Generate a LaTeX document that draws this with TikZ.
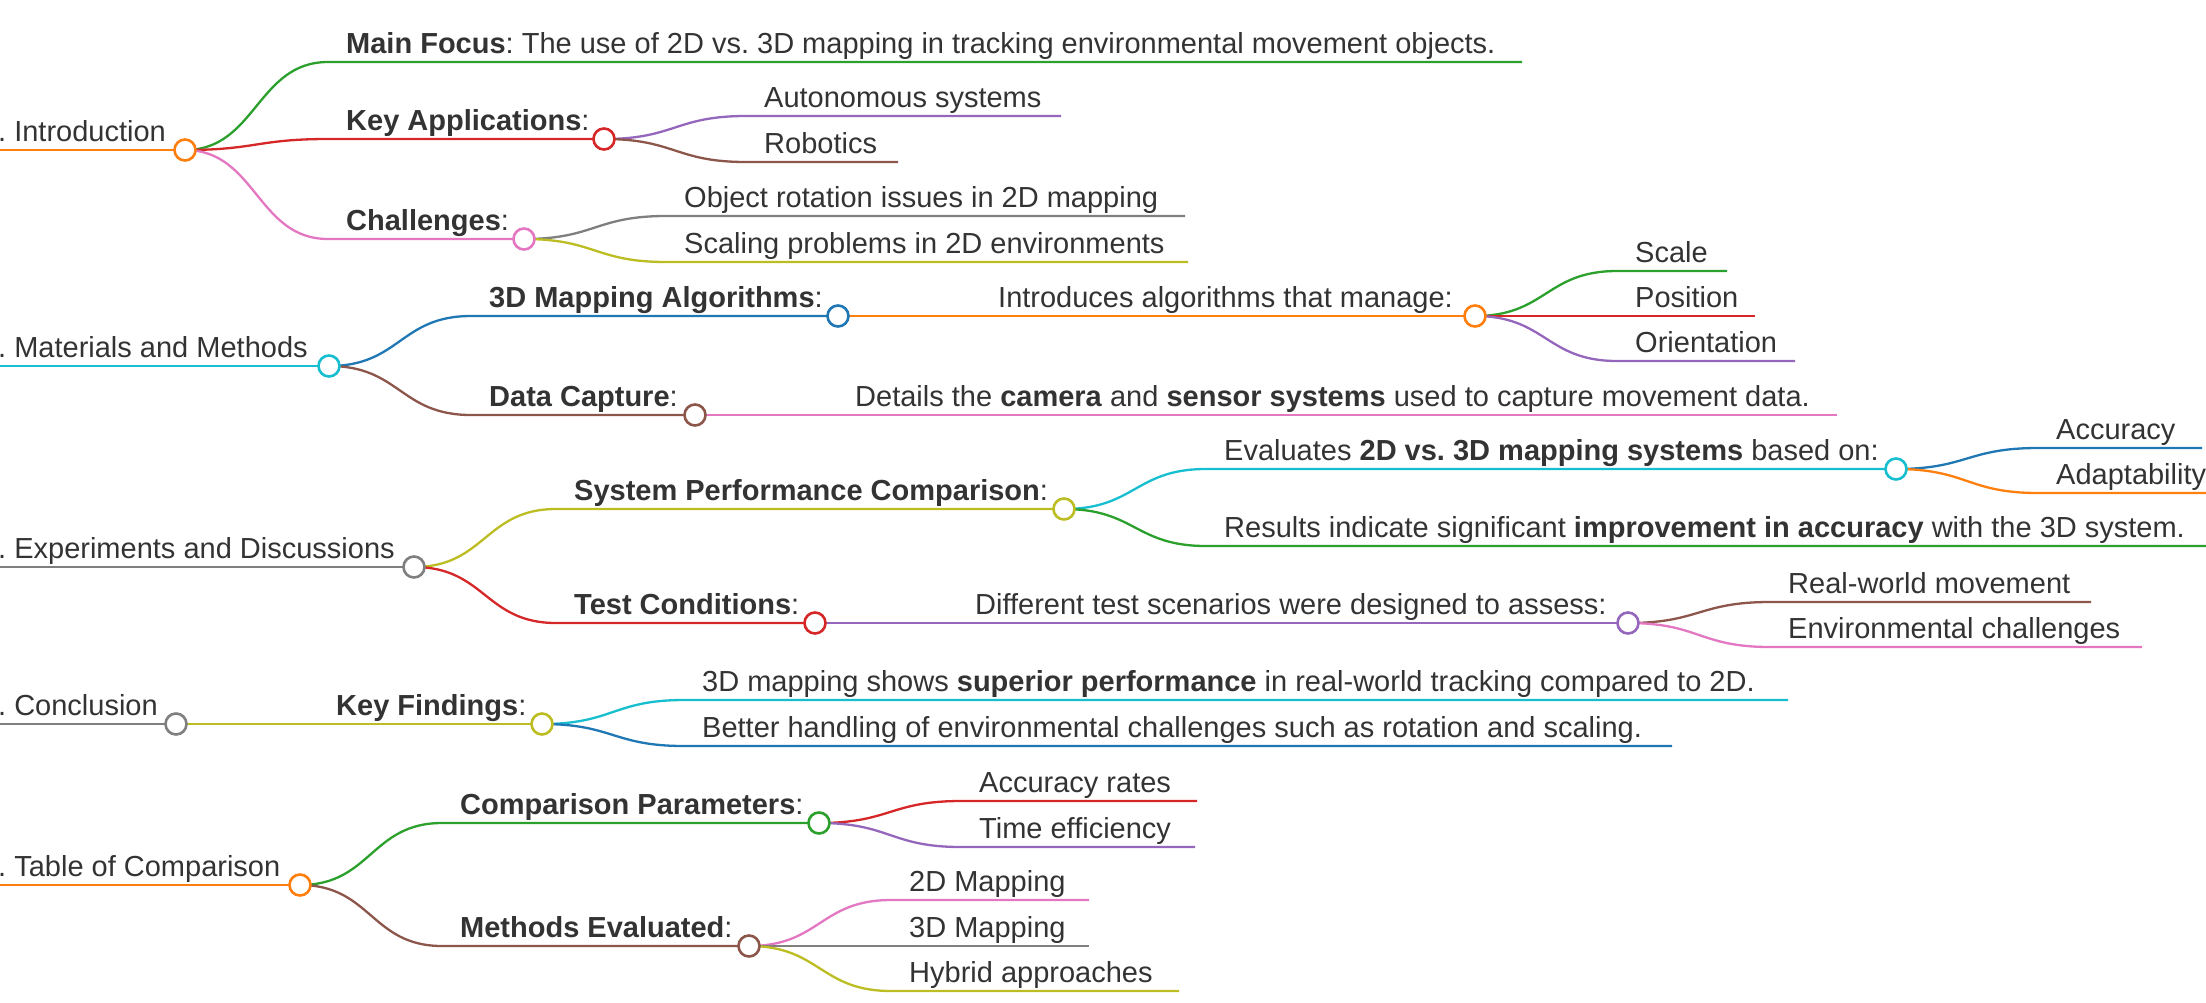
\documentclass[tikz,border=0pt]{standalone}
\usepackage{fontspec}
\setmainfont{Liberation Sans}
\frenchspacing
\pgfdeclarelayer{bg}
\pgfsetlayers{bg,main}
\definecolor{txtc}{HTML}{333333}
\definecolor{cblue}{HTML}{1F77B4}
\definecolor{corange}{HTML}{FF7F0E}
\definecolor{cgreen}{HTML}{2CA02C}
\definecolor{cred}{HTML}{D62728}
\definecolor{cpurple}{HTML}{9467BD}
\definecolor{cbrown}{HTML}{8C564B}
\definecolor{cpink}{HTML}{E377C2}
\definecolor{cgrey}{HTML}{7F7F7F}
\definecolor{colive}{HTML}{BCBD22}
\definecolor{ccyan}{HTML}{17BECF}
\tikzset{
  mmlbl/.style={anchor=base west, inner sep=0pt, text=txtc, font=\fontsize{29}{34}\selectfont\frenchspacing},
  mmdot/.style={circle, draw=#1, fill=white, line width=2.6pt, minimum size=21pt, inner sep=0pt},
  mmline/.style={draw=#1, line width=2.3pt},
}
% root: name, y, circle x, colour, text
\newcommand\mmroot[5]{%
  \coordinate (#1-s) at (0,#2);
  \node[mmlbl] (#1-t) at (-2,#2-8.5) {#5};
  \node[mmdot=#4] (#1) at (#3,#2) {};
}
% inner node: name, start x, y, circle x, colour, text
\newcommand\mmbranch[6]{%
  \coordinate (#1-s) at (#2,#3);
  \node[mmlbl] (#1-t) at (#2+18,#3-8.5) {#6};
  \node[mmdot=#5] (#1) at (#4,#3) {};
}
% leaf: name, start x, y, end x, text
\newcommand\mmleaf[5]{%
  \coordinate (#1-s) at (#2,#3);
  \coordinate (#1) at (#4,#3);
  \node[mmlbl] (#1-t) at (#2+18,#3-8.5) {#5};
}
\newcommand\mmedge[3]{%
  \draw[mmline=#1] (#2.center) .. controls +(71,0) and +(-71,0) .. (#3-s) -- (#3.center);
}
\newcommand\mmrootline[2]{%
  \draw[mmline=#1] (#2-s) -- (#2.center);
}
\begin{document}
\begin{tikzpicture}[x=1pt,y=-1pt]
\useasboundingbox (0,0) rectangle (2206,1002);
\clip (0,0) rectangle (2206,1002);
% ---------- 1. Introduction
\mmroot{intro}{150}{185}{corange}{. Introduction}
\mmleaf{mf}{328}{62}{1522}{\textbf{Main Focus}: The use of 2D vs. 3D mapping in tracking environmental movement objects.}
\mmbranch{ka}{328}{139}{604}{cred}{\textbf{Key Applications}:}
\mmleaf{au}{746}{116}{1061}{Autonomous systems}
\mmleaf{ro}{746}{162}{898}{Robotics}
\mmbranch{ch}{328}{239}{524}{cpink}{\textbf{Challenges}:}
\mmleaf{orot}{666}{216}{1185}{Object rotation issues in 2D mapping}
\mmleaf{spro}{666}{262}{1188}{Scaling problems in 2D environments}
% ---------- 2. Materials and Methods
\mmroot{mat}{366}{329}{ccyan}{. Materials and Methods}
\mmbranch{ma}{471}{316}{838}{cblue}{\textbf{3D Mapping Algorithms}:}
\mmbranch{ia}{980}{316}{1475}{corange}{Introduces algorithms that manage:}
\mmleaf{scl}{1617}{271}{1727}{Scale}
\mmleaf{pos}{1617}{316}{1755}{Position}
\mmleaf{ori}{1617}{361}{1795}{Orientation}
\mmbranch{dc}{471}{415}{695}{cbrown}{\textbf{Data Capture}:}
\mmleaf{det}{837}{415}{1837}{Details the \textbf{camera} and \textbf{sensor systems} used to capture movement data.}
% ---------- 3. Experiments and Discussions
\mmroot{exp}{567}{414}{cgrey}{. Experiments and Discussions}
\mmbranch{spc}{556}{509}{1064}{colive}{\textbf{System Performance Comparison}:}
\mmbranch{ev}{1206}{469}{1896}{ccyan}{Evaluates \textbf{2D vs. 3D mapping systems} based on:}
\mmleaf{acc}{2038}{448}{2202}{Accuracy}
\mmleaf{ada}{2038}{493}{2212}{Adaptability}
\mmleaf{res}{1206}{546}{2212}{Results indicate significant \textbf{improvement in accuracy} with the 3D system.}
\mmbranch{tc}{556}{623}{815}{cred}{\textbf{Test Conditions}:}
\mmbranch{dt}{957}{623}{1628}{cpurple}{Different test scenarios were designed to assess:}
\mmleaf{rw}{1770}{602}{2091}{Real-world movement}
\mmleaf{ec}{1770}{647}{2142}{Environmental challenges}
% ---------- 4. Conclusion
\mmroot{con}{724}{176}{cgrey}{. Conclusion}
\mmbranch{kf}{318}{724}{542}{colive}{\textbf{Key Findings}:}
\mmleaf{sh}{684}{700}{1788}{3D mapping shows \textbf{superior performance} in real-world tracking compared to 2D.}
\mmleaf{bh}{684}{746}{1672}{Better handling of environmental challenges such as rotation and scaling.}
% ---------- 5. Table of Comparison
\mmroot{tab}{885}{300}{corange}{. Table of Comparison}
\mmbranch{cp}{442}{823}{819}{cgreen}{\textbf{Comparison Parameters}:}
\mmleaf{ar}{961}{801}{1197}{Accuracy rates}
\mmleaf{tef}{961}{847}{1195}{Time efficiency}
\mmbranch{me}{442}{946}{749}{cbrown}{\textbf{Methods Evaluated}:}
\mmleaf{mtwo}{891}{900}{1089}{2D Mapping}
\mmleaf{mthree}{891}{946}{1089}{3D Mapping}
\mmleaf{hy}{891}{991}{1179}{Hybrid approaches}
% ---------- connectors
\begin{pgfonlayer}{bg}
\mmrootline{corange}{intro}
\mmedge{cgreen}{intro}{mf}
\mmedge{cred}{intro}{ka}
\mmedge{cpurple}{ka}{au}
\mmedge{cbrown}{ka}{ro}
\mmedge{cpink}{intro}{ch}
\mmedge{cgrey}{ch}{orot}
\mmedge{colive}{ch}{spro}
\mmrootline{ccyan}{mat}
\mmedge{cblue}{mat}{ma}
\mmedge{corange}{ma}{ia}
\mmedge{cgreen}{ia}{scl}
\mmedge{cred}{ia}{pos}
\mmedge{cpurple}{ia}{ori}
\mmedge{cbrown}{mat}{dc}
\mmedge{cpink}{dc}{det}
\mmrootline{cgrey}{exp}
\mmedge{colive}{exp}{spc}
\mmedge{ccyan}{spc}{ev}
\mmedge{cblue}{ev}{acc}
\mmedge{corange}{ev}{ada}
\mmedge{cgreen}{spc}{res}
\mmedge{cred}{exp}{tc}
\mmedge{cpurple}{tc}{dt}
\mmedge{cbrown}{dt}{rw}
\mmedge{cpink}{dt}{ec}
\mmrootline{cgrey}{con}
\mmedge{colive}{con}{kf}
\mmedge{ccyan}{kf}{sh}
\mmedge{cblue}{kf}{bh}
\mmrootline{corange}{tab}
\mmedge{cgreen}{tab}{cp}
\mmedge{cred}{cp}{ar}
\mmedge{cpurple}{cp}{tef}
\mmedge{cbrown}{tab}{me}
\mmedge{cpink}{me}{mtwo}
\mmedge{cgrey}{me}{mthree}
\mmedge{colive}{me}{hy}
\end{pgfonlayer}
\end{tikzpicture}
\end{document}
